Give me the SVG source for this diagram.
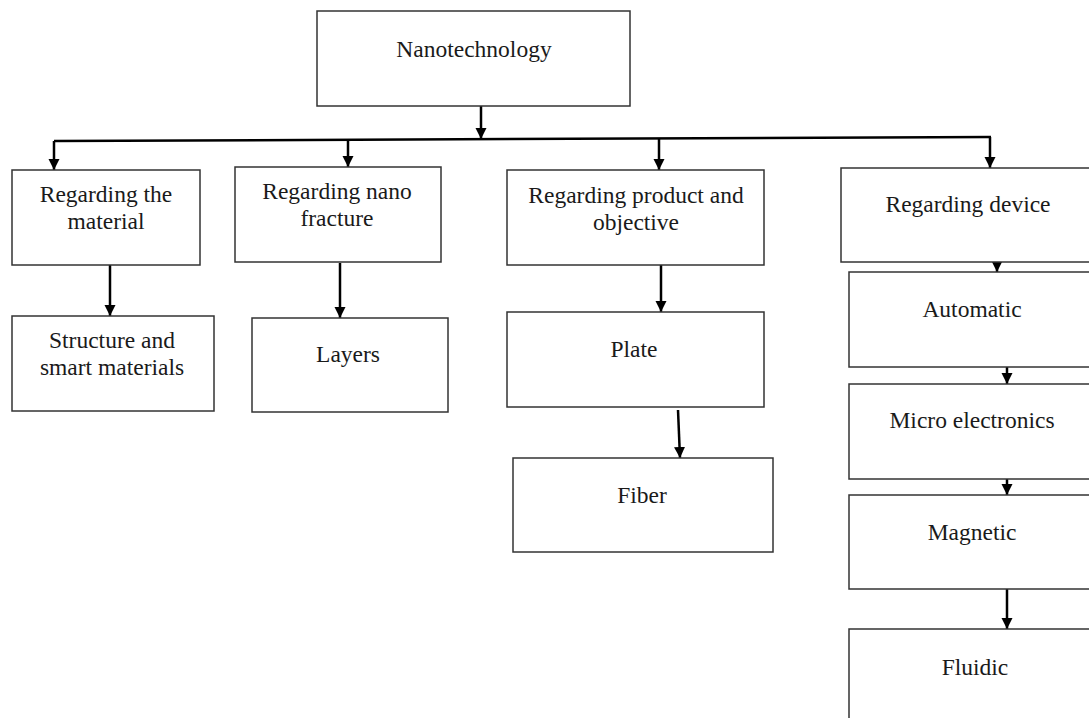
<svg xmlns="http://www.w3.org/2000/svg" width="1089" height="718" viewBox="0 0 1089 718">
<defs>
<marker id="ah" markerWidth="11" markerHeight="12" refX="11" refY="5.5" orient="auto" markerUnits="userSpaceOnUse" viewBox="0 0 11 11">
<path d="M0,0 L11,5.5 L0,11 Z" fill="#000"/>
</marker>
<style>
.box{fill:#fff;stroke:#333;stroke-width:1.5}
.t{font-family:"Liberation Serif","Times New Roman",serif;font-size:23.5px;fill:#1a1a1a;text-anchor:middle}
.c{stroke:#000;stroke-width:2.5;fill:none}
.ca{stroke:#000;stroke-width:2.5;fill:none;marker-end:url(#ah)}
</style>
</defs>
<rect width="1089" height="718" fill="#fff"/>
<g id="connectors">
<line class="ca" x1="481" y1="106" x2="481" y2="139"/>
<line class="c" x1="54" y1="141" x2="991" y2="137"/>
<line class="ca" x1="54" y1="141" x2="54" y2="170"/>
<line class="ca" x1="348" y1="140" x2="348" y2="167"/>
<line class="ca" x1="659" y1="139" x2="659" y2="170"/>
<line class="ca" x1="990" y1="137" x2="990" y2="168"/>
<line class="ca" x1="110" y1="265" x2="110" y2="316"/>
<line class="ca" x1="340" y1="263" x2="340" y2="318"/>
<line class="ca" x1="661" y1="265" x2="661" y2="312"/>
<line class="ca" x1="678" y1="410" x2="680" y2="458"/>
<line class="ca" x1="997" y1="262" x2="997" y2="272"/>
<line class="ca" x1="1007" y1="367" x2="1007" y2="384"/>
<line class="ca" x1="1007" y1="479" x2="1007" y2="495"/>
<line class="ca" x1="1007" y1="589" x2="1007" y2="629"/>
</g>
<g id="nanotechnology">
<rect class="box" x="317" y="11" width="313" height="95"/>
<text class="t" x="474" y="57">Nanotechnology</text>
</g>
<g id="regarding-material">
<rect class="box" x="12" y="170" width="188" height="95"/>
<text class="t" x="106" y="202">Regarding the</text>
<text class="t" x="106" y="229">material</text>
</g>
<g id="structure">
<rect class="box" x="12" y="316" width="202" height="95"/>
<text class="t" x="112" y="348">Structure and</text>
<text class="t" x="112" y="375">smart materials</text>
</g>
<g id="regarding-nano">
<rect class="box" x="235" y="167" width="206" height="95"/>
<text class="t" x="337" y="199">Regarding nano</text>
<text class="t" x="337" y="226">fracture</text>
</g>
<g id="layers">
<rect class="box" x="252" y="318" width="196" height="94"/>
<text class="t" x="348" y="362">Layers</text>
</g>
<g id="regarding-product">
<rect class="box" x="507" y="170" width="257" height="95"/>
<text class="t" x="636" y="203">Regarding product and</text>
<text class="t" x="636" y="230">objective</text>
</g>
<g id="plate">
<rect class="box" x="507" y="312" width="257" height="95"/>
<text class="t" x="634" y="357">Plate</text>
</g>
<g id="fiber">
<rect class="box" x="513" y="458" width="260" height="94"/>
<text class="t" x="642" y="503">Fiber</text>
</g>
<g id="regarding-device">
<rect class="box" x="841" y="168" width="260" height="94"/>
<text class="t" x="968" y="212">Regarding device</text>
</g>
<g id="automatic">
<rect class="box" x="849" y="272" width="252" height="95"/>
<text class="t" x="972" y="317">Automatic</text>
</g>
<g id="micro">
<rect class="box" x="849" y="384" width="252" height="95"/>
<text class="t" x="972" y="428">Micro electronics</text>
</g>
<g id="magnetic">
<rect class="box" x="849" y="495" width="252" height="94"/>
<text class="t" x="972" y="540">Magnetic</text>
</g>
<g id="fluidic">
<rect class="box" x="849" y="629" width="252" height="100"/>
<text class="t" x="975" y="675">Fluidic</text>
</g>
</svg>
